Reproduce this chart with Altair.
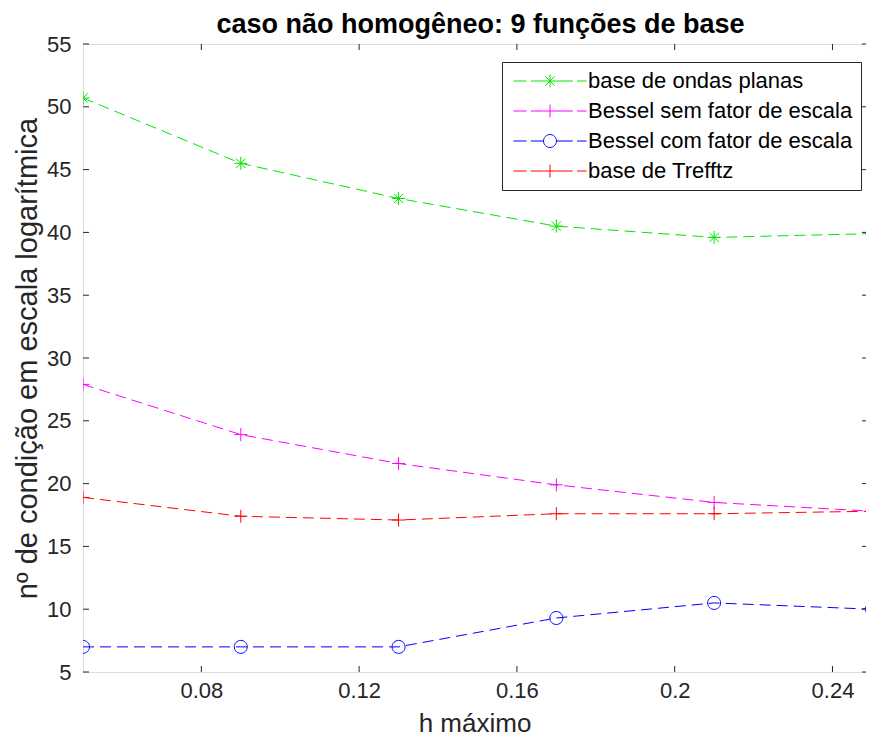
import altair as alt
import pandas as pd

# ---- data ----
h_values = [0.05, 0.09, 0.13, 0.17, 0.21, 0.25]
series_names = [
    "base de ondas planas",
    "Bessel sem fator de escala",
    "Bessel com fator de escala",
    "base de Trefftz",
]
ondas_planas = [50.7, 45.5, 42.7, 40.5, 39.6, 39.9]
bessel_sem = [27.9, 23.9, 21.6, 19.9, 18.5, 17.8]
bessel_com = [7.0, 7.0, 7.0, 9.3, 10.5, 10.0]
trefftz = [18.9, 17.4, 17.1, 17.6, 17.6, 17.8]
x_ticks = [0.08, 0.12, 0.16, 0.2, 0.24]
y_ticks = [5, 10, 15, 20, 25, 30, 35, 40, 45, 50, 55]

colors = ["#00e600", "#ff00ff", "#0000ff", "#ff0000"]

# ---- marker shapes (unit square paths) ----
STAR = "M-1,0L1,0M0,-1L0,1M-0.72,-0.72L0.72,0.72M-0.72,0.72L0.72,-0.72"
PLUS = "M-1,0L1,0M0,-1L0,1"
CIRC = ("M-1,0C-1,-0.552,-0.552,-1,0,-1C0.552,-1,1,-0.552,1,0"
        "C1,0.552,0.552,1,0,1C-0.552,1,-1,0.552,-1,0Z")
markers = [STAR, PLUS, CIRC, PLUS]


def scaled(path, k):
    out = []
    num = ""
    for ch in path:
        if ch in "-0123456789.":
            num += ch
        else:
            if num:
                out.append(f"{float(num) * k:.3f}")
                num = ""
            out.append(ch)
    if num:
        out.append(f"{float(num) * k:.3f}")
    return "".join(out)


DASHES = "M-6.1,0L-3.9,0M-3.2,0L-1.1,0M1.1,0L3.8,0M4.5,0L6.1,0"
legend_paths = [DASHES + scaled(m, 1.08) for m in markers]

rows = []
for name, vals in zip(series_names, [ondas_planas, bessel_sem, bessel_com, trefftz]):
    for h, v in zip(h_values, vals):
        rows.append({"h": h, "v": v, "series": name, "label": name})
df = pd.DataFrame(rows)

W, H = 783, 628
FONT = "Liberation Sans"
XDOM = [0.05, 0.2485]
xscale = alt.Scale(domain=XDOM, nice=False, zero=False)
yscale = alt.Scale(domain=[5, 55], nice=False, zero=False)

x_enc = alt.X("h:Q", scale=xscale,
              axis=alt.Axis(values=x_ticks, format="~g", title="h máximo",
                            grid=False, ticks=False, domain=False,
                            labelFontSize=22, labelColor="#262626",
                            labelPadding=8, titleFontSize=26,
                            titleFontWeight="normal", titleColor="#262626",
                            titlePadding=9, labelFont=FONT, titleFont=FONT))
y_enc = alt.Y("v:Q", scale=yscale,
              axis=alt.Axis(values=y_ticks, title="nº de condição em escala logarítmica",
                            grid=False, ticks=False, domain=False,
                            labelFontSize=22, labelColor="#262626",
                            labelPadding=12, titleFontSize=29,
                            titleFontWeight="normal", titleColor="#262626",
                            titlePadding=4, labelFont=FONT, titleFont=FONT))

color_scale = alt.Scale(domain=series_names, range=colors)

lines = alt.Chart(df).mark_line(strokeWidth=1, strokeDash=[11, 6], clip=True).encode(
    x=x_enc, y=y_enc,
    color=alt.Color("series:N", scale=color_scale, legend=None),
    detail="series:N",
)

points = alt.Chart(df).mark_point(filled=False, size=169, strokeWidth=1, opacity=1, clip=True).encode(
    x="h:Q", y="v:Q",
    color=alt.Color("series:N", scale=color_scale, legend=None),
    shape=alt.Shape("series:N", scale=alt.Scale(domain=series_names, range=markers), legend=None),
)

legend_layer = alt.Chart(df).mark_point(filled=False, size=144, opacity=0, clip=True).encode(
    x="h:Q", y="v:Q",
    color=alt.Color("label:N", scale=alt.Scale(domain=series_names, range=colors),
                    legend=alt.Legend(title=None, orient="none", legendX=419, legendY=18,
                                      symbolSize=144, symbolStrokeWidth=1,
                                      symbolOffset=29, labelOffset=27, labelLimit=500,
                                      labelFontSize=22, labelFont=FONT, labelColor="black",
                                      rowPadding=8, padding=8,
                                      strokeColor="#262626", fillColor="white",
                                      cornerRadius=0)),
    shape=alt.Shape("label:N", scale=alt.Scale(domain=series_names, range=legend_paths)),
)

xt = pd.DataFrame({"h": x_ticks})
yt = pd.DataFrame({"v": y_ticks})
tick_color = alt.value("#262626")

xt_bottom = alt.Chart(xt).mark_rule(strokeWidth=1).encode(
    x=alt.X("h:Q", scale=xscale), y=alt.value(H), y2=alt.value(H - 6), color=tick_color)
xt_top = alt.Chart(xt).mark_rule(strokeWidth=1).encode(
    x=alt.X("h:Q", scale=xscale), y=alt.value(0), y2=alt.value(6), color=tick_color)
yt_left = alt.Chart(yt).mark_rule(strokeWidth=1).encode(
    y=alt.Y("v:Q", scale=yscale), x=alt.value(0), x2=alt.value(6), color=tick_color)
yt_right = alt.Chart(yt).mark_rule(strokeWidth=1).encode(
    y=alt.Y("v:Q", scale=yscale), x=alt.value(W - 4), x2=alt.value(W), color=tick_color)

chart = alt.layer(
    lines, points, legend_layer, xt_bottom, xt_top, yt_left, yt_right
).resolve_scale(
    color="independent", shape="independent"
).properties(
    width=W, height=H,
    title=alt.TitleParams("caso não homogêneo: 9 funções de base", fontSize=27,
                          fontWeight="bold", color="black", font=FONT,
                          frame="group", offset=-6, dx=6),
    autosize=alt.AutoSizeParams(type="none"),
    padding={"left": 75, "top": 36, "right": 0, "bottom": 64},
).configure_view(
    stroke="#262626", strokeWidth=1
).configure(background="white")

chart.save("out.html", embed_options={"renderer": "svg", "actions": False})
